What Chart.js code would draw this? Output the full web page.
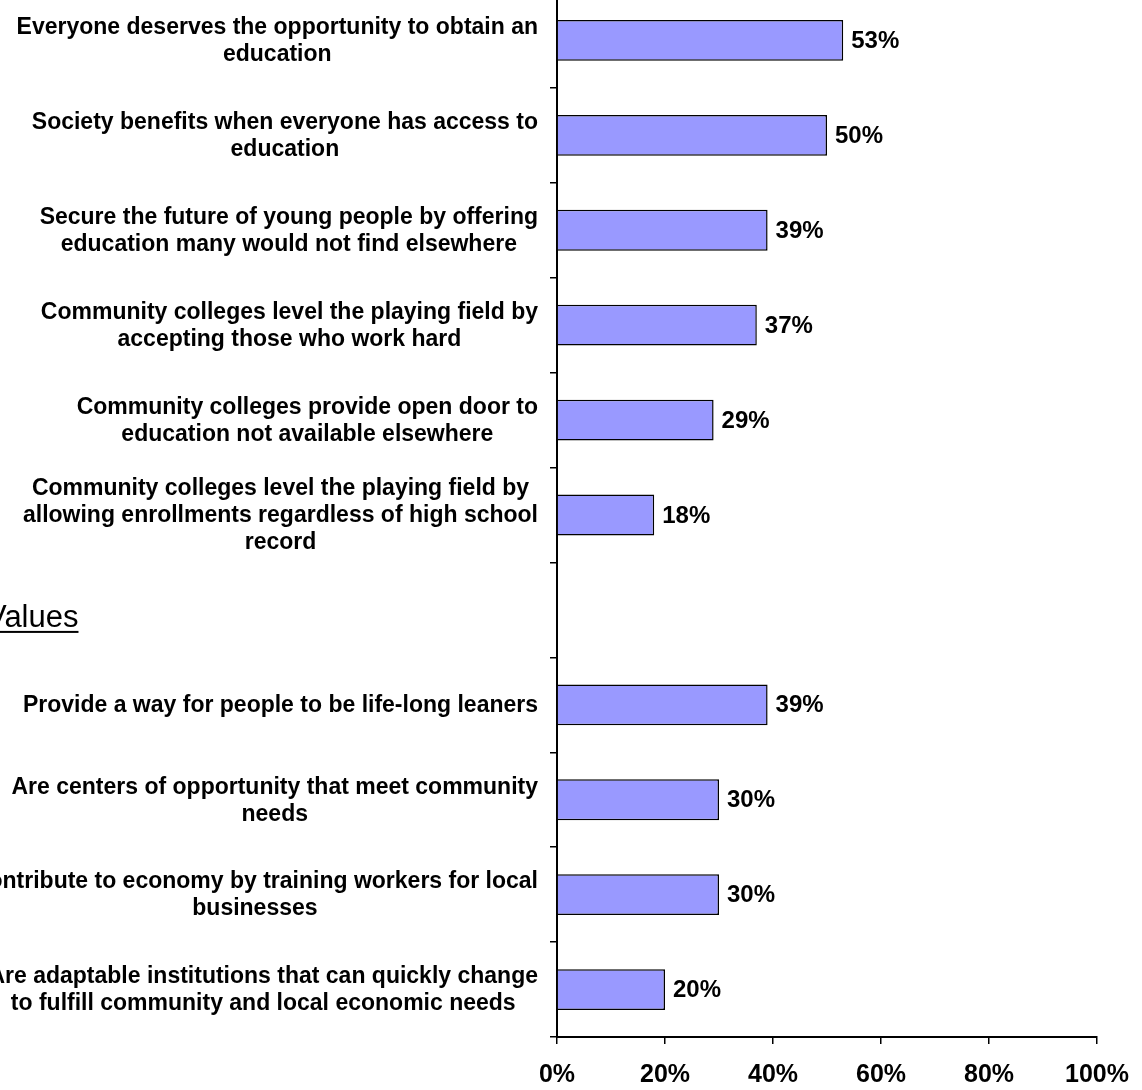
<!DOCTYPE html>
<html>
<head>
<meta charset="utf-8">
<title>Community college values</title>
<script src="https://cdn.jsdelivr.net/npm/chart.js@4.4.1/dist/chart.umd.min.js"></script>
<style>
  html, body { margin: 0; padding: 0; background: #fff; overflow: hidden; }
  #wrap { position: absolute; left: 0; top: -17px; width: 1142px; height: 1123px; }
</style>
</head>
<body>
<div id="wrap"><canvas id="myChart"></canvas></div>
<script>
'use strict';

/// GLOBAL DATA
let categoryLabels = [
  ['Everyone deserves the opportunity to obtain an', 'education'],
  ['Society benefits when everyone has access to', 'education'],
  ['Secure the future of young people by offering', 'education many would not find elsewhere'],
  ['Community colleges level the playing field by', 'accepting those who work hard'],
  ['Community colleges provide open door to', 'education not available elsewhere'],
  ['Community colleges level the playing field by', 'allowing enrollments regardless of high school', 'record'],
  [''],
  ['Provide a way for people to be life-long leaners'],
  ['Are centers of opportunity that meet community', 'needs'],
  ['Contribute to economy by training workers for local', 'businesses'],
  ['Are adaptable institutions that can quickly change', 'to fulfill community and local economic needs']
];
let percentValues = [53, 50, 39, 37, 29, 18, null, 39, 30, 30, 20];
let xTicks = [0, 20, 40, 60, 80, 100];
let groupHeaders = [{ index: 6, text: 'Values' }];

let fontFamily = '"Liberation Sans", Arial, sans-serif';

// PLUGIN: category labels (right aligned block, centered lines), value labels, group header
let labelPlugin = {
  id: 'labelPlugin',
  afterDraw(chart) {
    let ctx = chart.ctx;
    let yScale = chart.scales.y;
    ctx.save();
    ctx.fillStyle = '#000';

    // category labels
    ctx.font = 'bold 23px ' + fontFamily;
    ctx.textAlign = 'center';
    ctx.textBaseline = 'middle';
    let lineH = 27;
    for (let i = 0; i < categoryLabels.length; i++) {
      let lines = categoryLabels[i];
      let maxW = 0;
      for (let j = 0; j < lines.length; j++) {
        maxW = Math.max(maxW, ctx.measureText(lines[j]).width);
      }
      let cx = yScale.right - 19 - maxW / 2;
      let cy = yScale.getPixelForValue(i) + 1;
      let startY = cy - (lines.length - 1) * lineH / 2;
      for (let j = 0; j < lines.length; j++) {
        ctx.fillText(lines[j], cx, startY + j * lineH);
      }
    }

    // value labels at bar ends
    let meta = chart.getDatasetMeta(0);
    ctx.font = 'bold 24px ' + fontFamily;
    ctx.textAlign = 'left';
    for (let i = 0; i < percentValues.length; i++) {
      if (percentValues[i] === null) continue;
      let bar = meta.data[i];
      ctx.fillText(percentValues[i] + '%', bar.x + 8, bar.y + 1);
    }

    // group header
    ctx.font = '31px ' + fontFamily;
    ctx.textBaseline = 'alphabetic';
    for (let k = 0; k < groupHeaders.length; k++) {
      let hy = yScale.getPixelForValue(groupHeaders[k].index) + 17;
      let hx = -14;
      let w = ctx.measureText(groupHeaders[k].text).width;
      ctx.fillText(groupHeaders[k].text, hx, hy);
      ctx.fillRect(hx, hy + 4, w, 2);
    }
    ctx.restore();
  }
};

// CHART
let canvasElem = document.getElementById('myChart').getContext('2d');

new Chart(canvasElem, {
  type: 'bar',
  data: {
    labels: categoryLabels,
    datasets: [
      {
        data: percentValues,
        backgroundColor: '#9999FF',
        borderColor: '#000',
        borderWidth: 1.5,
        barPercentage: 0.43,
        categoryPercentage: 1
      }
    ]
  },
  options: {
    indexAxis: 'y',
    responsive: true,
    maintainAspectRatio: false,
    animation: false,
    layout: { padding: { top: 10, right: 45, left: 0, bottom: 0 } },
    plugins: {
      legend: { display: false },
      tooltip: { enabled: false }
    },
    scales: {
      x: {
        min: 0,
        max: 100,
        afterBuildTicks(scale) {
          scale.ticks = xTicks.map(v => ({ value: v }));
        },
        afterFit(scale) {
          scale.paddingRight = 0;
          scale.paddingLeft = 0;
        },
        grid: { drawOnChartArea: false, drawTicks: true, tickLength: 7, color: '#000', lineWidth: 1.5 },
        border: { display: true, color: '#000', width: 2 },
        ticks: {
          padding: 16,
          color: '#000',
          font: { family: fontFamily, size: 25, weight: 'bold' },
          callback: v => v + '%'
        }
      },
      y: {
        afterFit(scale) {
          scale.width = 557;
        },
        grid: { drawOnChartArea: false, drawTicks: true, tickLength: 7, color: '#000', lineWidth: 1.5, offset: true },
        border: { display: true, color: '#000', width: 2 },
        ticks: { display: false }
      }
    }
  },
  plugins: [labelPlugin]
});
</script>
</body>
</html>
